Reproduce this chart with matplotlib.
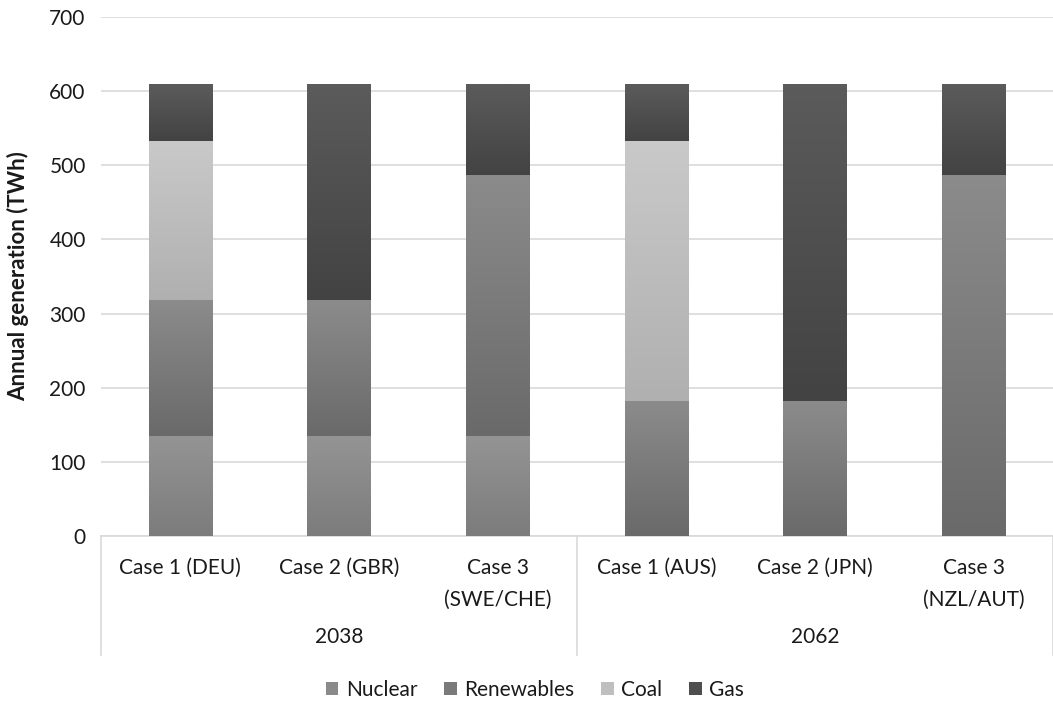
import matplotlib

matplotlib.use("Agg")

import matplotlib.pyplot as plt
import matplotlib.transforms as mtransforms
from matplotlib.colors import LinearSegmentedColormap
from matplotlib.patches import Patch
import numpy as np

plt.rcParams["font.family"] = ["Lato", "DejaVu Sans"]

years = ["2038", "2062"]
cases = ["Case 1 (DEU)", "Case 2 (GBR)", "Case 3\n(SWE/CHE)",
         "Case 1 (AUS)", "Case 2 (JPN)", "Case 3\n(NZL/AUT)"]
sources = ["Nuclear", "Renewables", "Coal", "Gas"]

nuclear = [135, 135, 135, 0, 0, 0]
renewables = [183, 183, 352, 182, 182, 487]
coal = [215, 0, 0, 351, 0, 0]
gas = [76, 291, 122, 76, 427, 122]

# top / bottom shade of each segment's vertical gradient
shades = {
    "Nuclear": ("#949494", "#7c7c7c"),
    "Renewables": ("#8b8b8b", "#6a6a6a"),
    "Coal": ("#c9c9c9", "#b0b0b0"),
    "Gas": ("#5b5b5b", "#434343"),
}
legend_colors = {
    "Nuclear": "#8a8a8a",
    "Renewables": "#7a7a7a",
    "Coal": "#bfbfbf",
    "Gas": "#4e4e4e",
}
text_color = "#1a1a1a"

fig = plt.figure(figsize=(10.53, 7.02), dpi=100)
ax = fig.add_axes([101 / 1053, 166 / 702, 952 / 1053, 519 / 702])

x = np.arange(len(cases))
bottom = np.zeros(len(cases))
grad = np.linspace(1, 0, 64).reshape(-1, 1)
for name, values in zip(sources, [nuclear, renewables, coal, gas]):
    values = np.asarray(values, dtype=float)
    bars = ax.bar(x, values, width=0.4, bottom=bottom, color="none",
                  edgecolor="none", zorder=3)
    cmap = LinearSegmentedColormap.from_list(name, [shades[name][1], shades[name][0]])
    for bar in bars:
        if bar.get_height() <= 0:
            continue
        x0, y0 = bar.get_x(), bar.get_y()
        ax.imshow(grad, cmap=cmap, vmin=0, vmax=1, aspect="auto",
                  extent=[x0, x0 + bar.get_width(), y0, y0 + bar.get_height()],
                  zorder=3, interpolation="bilinear")
    bottom += values

ax.set_xlim(-0.5, len(cases) - 0.5)
ax.set_ylim(0, 700)
ax.set_yticks(range(0, 701, 100))
ax.tick_params(axis="y", length=0, labelsize=15, pad=11, colors=text_color)
ax.yaxis.grid(True, color="#d9d9d9", linewidth=1.2, zorder=0)
ax.set_axisbelow(True)
for side in ["top", "right", "left"]:
    ax.spines[side].set_visible(False)
ax.spines["bottom"].set_color("#d9d9d9")
ax.spines["bottom"].set_linewidth(1.2)
ax.set_xticks([])
ax.set_ylabel("Annual generation (TWh)", fontsize=16, fontweight="bold",
              color=text_color)
ax.yaxis.set_label_coords(-72 / 952, 0.5)

# two-level category axis: case labels, then years, with group separators
px = 1 / 519
trans = mtransforms.blended_transform_factory(ax.transData, ax.transAxes)
for i, label in enumerate(cases):
    for k, line in enumerate(label.split("\n")):
        ax.text(i, (-38 - 32 * k) * px, line, transform=trans, ha="center",
                va="baseline", fontsize=15, color=text_color)
for g, year in enumerate(years):
    ax.text(g * 3 + 1, -107 * px, year, transform=trans, ha="center",
            va="baseline", fontsize=15, color=text_color)
for xs in [-0.5, 2.5, 5.5]:
    ax.plot([xs, xs], [0, -119 * px], transform=trans, color="#d9d9d9",
            linewidth=1.2, clip_on=False)

handles = [Patch(facecolor=legend_colors[s], edgecolor="none", label=s) for s in sources]
fig.legend(handles=handles, loc="center", bbox_to_anchor=(535 / 1053, 1 - 690 / 702),
           ncol=4, frameon=False, fontsize=15, handlelength=0.6, handleheight=0.6,
           handletextpad=0.35, columnspacing=1.3, labelcolor=text_color)

fig.savefig("out.png", dpi=100, facecolor="white")
